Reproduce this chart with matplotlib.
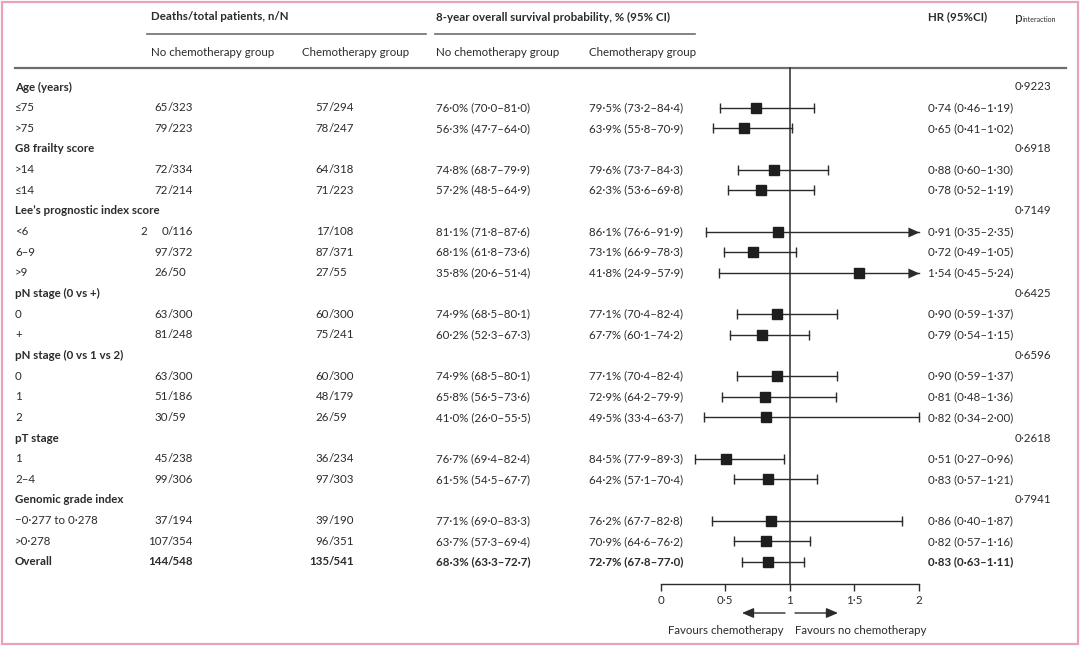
import matplotlib
matplotlib.use("Agg")
import matplotlib.pyplot as plt
from matplotlib.transforms import blended_transform_factory
from matplotlib.patches import Rectangle

plt.rcParams['font.family'] = ['Lato', 'DejaVu Sans']

# ---------------- data ----------------
labels = ["Age (years)", "≤75", ">75",
          "G8 frailty score", ">14", "≤14",
          "Lee’s prognostic index score", "<6", "6–9", ">9",
          "pN stage (0 vs +)", "0", "+",
          "pN stage (0 vs 1 vs 2)", "0", "1", "2",
          "pT stage", "1", "2–4",
          "Genomic grade index", "−0·277 to 0·278", ">0·278",
          "Overall"]
is_header = [True, False, False, True, False, False, True, False, False, False,
             True, False, False, True, False, False, False, True, False, False,
             True, False, False, False]
deaths_nochemo = ["", "65/323", "79/223", "", "72/334", "72/214", "", "0/116", "97/372", "26/50",
                  "", "63/300", "81/248", "", "63/300", "51/186", "30/59", "", "45/238", "99/306",
                  "", "37/194", "107/354", "144/548"]
deaths_chemo = ["", "57/294", "78/247", "", "64/318", "71/223", "", "17/108", "87/371", "27/55",
                "", "60/300", "75/241", "", "60/300", "48/179", "26/59", "", "36/234", "97/303",
                "", "39/190", "96/351", "135/541"]
surv_nochemo = ["", "76·0% (70·0–81·0)", "56·3% (47·7–64·0)", "", "74·8% (68·7–79·9)", "57·2% (48·5–64·9)",
                "", "81·1% (71·8–87·6)", "68·1% (61·8–73·6)", "35·8% (20·6–51·4)",
                "", "74·9% (68·5–80·1)", "60·2% (52·3–67·3)",
                "", "74·9% (68·5–80·1)", "65·8% (56·5–73·6)", "41·0% (26·0–55·5)",
                "", "76·7% (69·4–82·4)", "61·5% (54·5–67·7)",
                "", "77·1% (69·0–83·3)", "63·7% (57·3–69·4)", "68·3% (63·3–72·7)"]
surv_chemo = ["", "79·5% (73·2–84·4)", "63·9% (55·8–70·9)", "", "79·6% (73·7–84·3)", "62·3% (53·6–69·8)",
              "", "86·1% (76·6–91·9)", "73·1% (66·9–78·3)", "41·8% (24·9–57·9)",
              "", "77·1% (70·4–82·4)", "67·7% (60·1–74·2)",
              "", "77·1% (70·4–82·4)", "72·9% (64·2–79·9)", "49·5% (33·4–63·7)",
              "", "84·5% (77·9–89·3)", "64·2% (57·1–70·4)",
              "", "76·2% (67·7–82·8)", "70·9% (64·6–76·2)", "72·7% (67·8–77·0)"]
hr = [None, 0.74, 0.65, None, 0.88, 0.78, None, 0.91, 0.72, 1.54,
      None, 0.90, 0.79, None, 0.90, 0.81, 0.82, None, 0.51, 0.83,
      None, 0.86, 0.82, 0.83]
hr_lo = [None, 0.46, 0.41, None, 0.60, 0.52, None, 0.35, 0.49, 0.45,
         None, 0.59, 0.54, None, 0.59, 0.48, 0.34, None, 0.27, 0.57,
         None, 0.40, 0.57, 0.63]
hr_hi = [None, 1.19, 1.02, None, 1.30, 1.19, None, 2.35, 1.05, 5.24,
         None, 1.37, 1.15, None, 1.37, 1.36, 2.00, None, 0.96, 1.21,
         None, 1.87, 1.16, 1.11]
p_interaction = ["0·9223", "", "", "0·6918", "", "", "0·7149", "", "", "",
                 "0·6425", "", "", "0·6596", "", "", "", "0·2618", "", "",
                 "0·7941", "", "", ""]
xticks = [0, 0.5, 1, 1.5, 2]
xtick_labels = ["0", "0·5", "1", "1·5", "2"]

# ---------------- layout ----------------
W, H = 1080, 646
fig = plt.figure(figsize=(W / 100, H / 100), dpi=100)
fig.patch.set_facecolor("white")

base = fig.add_axes([0, 0, 1, 1])
base.set_xlim(0, W)
base.set_ylim(H, 0)
base.axis("off")

TXT = "#2b2b2b"
FS = 8.3
row0_px, row_step = 87.0, 20.65
ax_left, ax_right, ax_top, ax_bot = 660.5, 918.5, 68.0, 584.0
n = len(labels)

fax = fig.add_axes([ax_left / W, (H - ax_bot) / H, (ax_right - ax_left) / W, (ax_bot - ax_top) / H])
fax.set_xlim(0, 2)
fax.set_ylim((ax_bot - row0_px) / row_step, (ax_top - row0_px) / row_step)
fax.patch.set_alpha(0)
for s in ["top", "left", "right"]:
    fax.spines[s].set_visible(False)
fax.spines["bottom"].set_color(TXT)
fax.spines["bottom"].set_linewidth(1.0)
fax.set_yticks([])
fax.set_xticks(xticks)
fax.set_xticklabels(xtick_labels, fontsize=FS, color=TXT)
fax.tick_params(axis="x", direction="out", length=5, width=1.0, color=TXT, pad=3)

tr = blended_transform_factory(base.transData, fax.transData)

# border
base.add_patch(Rectangle((1.5, 1.5), W - 4, H - 4, fill=False, edgecolor="#e8a3b9", linewidth=1.6))

# header
hdr_kw = dict(fontsize=FS, color=TXT, fontweight="bold", va="center", ha="left")
base.text(151, 17, "Deaths/total patients, n/N", **hdr_kw)
base.text(436, 17, "8-year overall survival probability, % (95% CI)", **hdr_kw)
base.text(928, 17, "HR (95%CI)", **hdr_kw)
base.text(1015, 18, "p", fontsize=FS + 1.5, color=TXT, va="center", ha="left")
base.text(1023, 19.5, "interaction", fontsize=5.0, color=TXT, va="center", ha="left")
sub_kw = dict(fontsize=FS, color=TXT, va="center", ha="left")
base.text(151, 52, "No chemotherapy group", **sub_kw)
base.text(302, 52, "Chemotherapy group", **sub_kw)
base.text(436, 52, "No chemotherapy group", **sub_kw)
base.text(589, 52, "Chemotherapy group", **sub_kw)
base.plot([147, 426], [34, 34], color="#6d6d6d", lw=1.2)
base.plot([435, 695], [34, 34], color="#6d6d6d", lw=1.2)
base.plot([15, 1066], [67.5, 67.5], color="#6d6d6d", lw=1.6)

# vertical reference line at HR = 1
fax.plot([1, 1], [fax.get_ylim()[1], fax.get_ylim()[0]], color=TXT, lw=1.1, clip_on=False)

tip_right = [(-1.0, -0.45), (0.0, 0.0), (-1.0, 0.45)]

for i in range(n):
    bold = is_header[i] or labels[i] == "Overall"
    w = "bold" if bold else "normal"
    kw = dict(fontsize=FS, color=TXT, va="center", transform=tr, fontweight=w)
    base.text(15, i, labels[i], ha="left", **kw)
    if deaths_nochemo[i]:
        num, den = deaths_nochemo[i].split("/")
        base.text(168, i, num, ha="right", **kw)
        base.text(168, i, "/" + den, ha="left", **kw)
    if deaths_chemo[i]:
        num, den = deaths_chemo[i].split("/")
        base.text(329, i, num, ha="right", **kw)
        base.text(329, i, "/" + den, ha="left", **kw)
    if labels[i] == "<6":
        base.text(140, i, "2", ha="left", **kw)
    if surv_nochemo[i]:
        base.text(436, i, surv_nochemo[i], ha="left", **kw)
    if surv_chemo[i]:
        base.text(589, i, surv_chemo[i], ha="left", **kw)
    if p_interaction[i]:
        base.text(1015, i, p_interaction[i], ha="left", fontsize=FS, color=TXT, va="center",
                  transform=tr)
    if hr[i] is not None:
        base.text(928, i, f"{hr[i]:.2f} ({hr_lo[i]:.2f}–{hr_hi[i]:.2f})".replace(".", "·"), ha="left", **kw)
        hi = min(hr_hi[i], 2.0)
        fax.plot([hr_lo[i], hi], [i, i], color=TXT, lw=1.0, clip_on=False, zorder=3)
        fax.plot([hr_lo[i]], [i], marker="|", ms=7, mew=1.0, color=TXT, clip_on=False, zorder=3)
        if hr_hi[i] > 2.0:
            fax.plot([2.0], [i], marker=tip_right, ms=16, color=TXT, clip_on=False, zorder=4,
                     markeredgewidth=0)
        else:
            fax.plot([hi], [i], marker="|", ms=7, mew=1.0, color=TXT, clip_on=False, zorder=3)
        fax.plot([hr[i]], [i], marker="s", ms=7.5, color="#1e1e1e", clip_on=False, zorder=5)

# favours arrows
arr = dict(arrowstyle="-|>,head_length=0.7,head_width=0.3", color=TXT, lw=1.0, shrinkA=0, shrinkB=0)
base.annotate("", xy=(742, 613), xytext=(785, 613), arrowprops=arr)
base.annotate("", xy=(838, 613), xytext=(795, 613), arrowprops=arr)
base.text(784, 630, "Favours chemotherapy", ha="right", va="center", fontsize=FS, color=TXT)
base.text(795, 630, "Favours no chemotherapy", ha="left", va="center", fontsize=FS, color=TXT)

fig.savefig("out.png", dpi=100)
